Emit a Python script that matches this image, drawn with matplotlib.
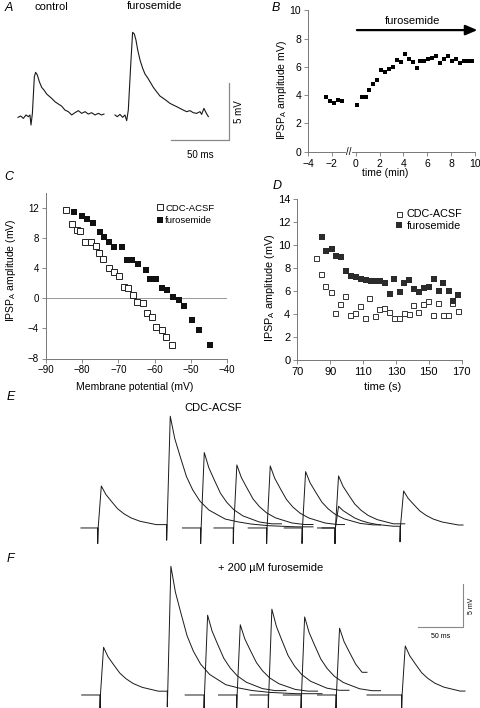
import matplotlib
matplotlib.use('Agg')
import matplotlib.pyplot as plt

plt.rcParams['font.family'] = ['Liberation Sans', 'DejaVu Sans']
plt.rcParams['axes.linewidth'] = 0.7

# ---------------- data ----------------
# A: averaged traces (ms, mV)
ctrl_t = [6.9, 9.2, 11.5, 13.8, 15.8, 17.2, 18.1, 19.3, 21.0, 22.1, 23.6, 25.3, 27.3, 29.3,
          31.6, 33.6, 35.9, 38.8, 41.7, 44.5, 47.4, 50.3, 53.2, 56.0, 58.9, 61.8, 64.7,
          67.5, 70.4, 73.3, 76.1, 79.0, 81.0]
ctrl_v = [-0.03, 0.09, -0.12, 0.18, 0.03, 0.18, -0.70, 0.32, 3.54, 3.92, 3.68, 3.10, 2.60,
          2.37, 2.02, 1.84, 1.64, 1.34, 1.14, 0.96, 0.61, 0.47, 0.18, 0.38, 0.56, 0.32, 0.47,
          0.26, 0.38, 0.18, 0.32, 0.18, 0.26]
furo_t = [90.5, 92.5, 94.8, 97.1, 99.1, 100.6, 102.0, 104.0, 105.7, 107.2, 108.6, 110.1,
          112.1, 114.4, 116.4, 118.4, 120.7, 123.6, 126.4, 129.3, 132.2, 135.0, 137.9, 140.8,
          143.7, 146.5, 149.4, 152.3, 155.2, 158.0, 160.9, 163.8, 165.2, 167.2, 169.0, 171.0]
furo_v = [0.18, 0.03, 0.23, -0.03, 0.18, -0.32, 0.61, 4.42, 7.43, 7.28, 6.75, 5.88, 5.00,
          4.27, 3.77, 3.48, 3.10, 2.60, 2.22, 1.84, 1.64, 1.43, 1.20, 1.05, 0.91, 0.76, 0.61,
          0.47, 0.56, 0.38, 0.32, 0.47, 0.23, 0.76, 0.38, 0.03]

# B: time course
b_time = [-2.47, -2.13, -1.83, -1.47, -1.13, 0.12, 0.54, 0.85, 1.15, 1.46, 1.79, 2.10, 2.46,
          2.80, 3.13, 3.47, 3.80, 4.13, 4.47, 4.80, 5.11, 5.42, 5.75, 6.08, 6.42, 6.75, 7.09,
          7.42, 7.73, 8.06, 8.42, 8.76, 9.06, 9.42, 9.76]
b_amp = [3.89, 3.61, 3.47, 3.66, 3.56, 3.30, 3.84, 3.84, 4.36, 4.79, 5.07, 5.75, 5.61, 5.87,
         6.01, 6.46, 6.32, 6.89, 6.53, 6.37, 5.94, 6.42, 6.42, 6.53, 6.65, 6.77, 6.25, 6.53,
         6.79, 6.42, 6.56, 6.25, 6.44, 6.42, 6.42]

# C: I-V relation
c_ctrl_v = [-84.41, -82.85, -81.47, -80.55, -79.17, -77.61, -76.32, -75.49, -74.12, -72.64,
            -71.08, -69.79, -68.50, -67.40, -65.84, -64.92, -63.26, -62.16, -60.78, -59.59,
            -58.02, -56.83, -55.08]
c_ctrl_a = [11.77, 9.91, 9.11, 8.97, 7.55, 7.46, 6.97, 6.08, 5.20, 4.04, 3.46, 2.93, 1.51,
            1.33, 0.44, -0.45, -0.67, -1.96, -2.49, -3.74, -4.27, -5.12, -6.14]
c_furo_v = [-82.21, -80.09, -78.71, -77.15, -75.22, -73.93, -72.64, -71.17, -68.87, -67.49,
            -66.21, -64.64, -62.44, -61.24, -59.68, -58.02, -56.64, -54.99, -53.33, -51.86,
            -49.57, -47.82, -44.69]
c_furo_a = [11.51, 10.97, 10.62, 10.00, 8.88, 8.22, 7.55, 6.84, 6.80, 5.06, 5.06, 4.62, 3.73,
            2.57, 2.53, 1.33, 1.06, 0.17, -0.23, -1.07, -2.85, -4.18, -6.14]

# D: time course in seconds
d_ctrl_t = [81.2, 84.2, 86.8, 90.3, 93.1, 96.2, 99.0, 102.0, 105.1, 108.1, 111.0, 113.8, 117.1,
            119.9, 122.7, 125.8, 128.8, 131.9, 134.9, 137.7, 140.6, 143.6, 146.7, 149.5, 152.6,
            155.4, 158.4, 161.5, 164.3, 167.6]
d_ctrl_a = [8.90, 7.48, 6.43, 5.94, 4.12, 4.90, 5.59, 3.91, 4.06, 4.70, 3.62, 5.36, 3.86, 4.43,
            4.49, 4.20, 3.65, 3.65, 4.09, 3.97, 4.78, 4.20, 4.90, 5.16, 3.91, 4.99, 3.94, 3.91,
            4.93, 4.23]
d_furo_t = [84.8, 87.2, 90.9, 93.3, 96.6, 99.6, 102.7, 105.7, 108.5, 111.8, 114.6, 117.5, 120.3,
            123.3, 126.4, 129.0, 132.3, 135.1, 138.2, 141.2, 144.0, 146.9, 149.9, 153.2, 156.2,
            158.8, 162.1, 164.7, 168.0]
d_furo_a = [10.67, 9.48, 9.62, 9.01, 8.96, 7.74, 7.33, 7.19, 7.07, 6.96, 6.84, 6.84, 6.90, 6.72,
            5.74, 7.01, 5.94, 6.67, 6.93, 6.20, 5.88, 6.29, 6.35, 7.04, 6.00, 6.67, 5.97, 5.10,
            5.68]

# E/F: overlaid sweeps (start ms, end ms, event onsets ms, event amplitudes mV)
e_sweeps = [(12.2, 270, [30.8, 107.4], [4.84, 12.5]),
            (125, 235, [145.2], [8.7]),
            (160, 270, [181.4], [7.27]),
            (198, 305, [218.5], [7.15]),
            (238, 345, [257.8], [6.5]),
            (275, 372, [294.4], [6.0]),
            (280, 436.7, [294.4, 366.7], [2.5, 4.07])]
f_sweeps = [(13, 280, [33.3, 108.1], [5.5, 14.4]),
            (128, 240, [148.9], [9.2]),
            (165, 275, [185.2], [8.1]),
            (200, 310, [220.3], [9.9]),
            (237, 345, [256.7], [9.0]),
            (275, 330, [295.5], [7.7]),
            (330, 438.9, [368.5], [5.65])]
# decay shape (ms after peak, fraction of peak)
decay_t = [0, 5, 11, 18, 25, 33, 43, 52, 61, 75, 90, 110, 140]
decay_f = [1, 0.8, 0.64, 0.46, 0.34, 0.24, 0.16, 0.12, 0.08, 0.055, 0.035, 0.02, 0.01]
rise_ms = 4.0


def sweep_xy(start, end, onsets, amps, dip=1.8):
    t = [start]
    v = [0.0]
    for k, (on, a) in enumerate(zip(onsets, amps)):
        stop = onsets[k + 1] if k + 1 < len(onsets) else end
        base = v[-1]
        t += [on, on, on + 0.5]
        v += [base, base - dip, base]
        for dt, f in zip(decay_t, decay_f):
            tk = on + rise_ms + dt
            if tk >= stop:
                break
            t.append(tk)
            v.append((base + a) * f)
    if t[-1] < end:
        t.append(end)
        v.append(v[-1])
    return t, v


W, H = 480, 708
fig = plt.figure(figsize=(4.8, 7.08), dpi=100)


def box(x0, y0, x1, y1):
    return [x0 / W, 1 - y1 / H, (x1 - x0) / W, (y1 - y0) / H]


def label(px, py, s, **kw):
    fig.text(px / W, 1 - py / H, s, **kw)


def style(ax, size=7):
    for s in ['top', 'right']:
        ax.spines[s].set_visible(False)
    for s in ['left', 'bottom']:
        ax.spines[s].set_color('#777777')
    ax.tick_params(direction='out', length=3, width=0.6, color='#777777',
                   labelsize=size, pad=2)


# ---------------- A ----------------
axA = fig.add_axes(box(10, 20, 240, 160))
axA.plot(ctrl_t, ctrl_v, color='#1a1a1a', lw=0.8)
axA.plot(furo_t, furo_v, color='#1a1a1a', lw=0.8)
axA.plot([138.8, 188.8, 188.8], [-2.02, -2.02, 2.98], color='#888888', lw=0.9)
axA.text(163.8, -2.9, '50 ms', ha='center', va='top', fontsize=7)
axA.text(197.5, 0.5, '5 mV', ha='center', va='center', rotation=90, fontsize=7)
axA.set_xlim(0, 198.3)
axA.set_ylim(-3.77, 8.51)
axA.axis('off')
label(5, 8, 'A', fontsize=9, style='italic', va='center')
label(51, 7, 'control', fontsize=8, ha='center', va='center')
label(155, 6, 'furosemide', fontsize=8, ha='center', va='center')

# ---------------- B ----------------
axB = fig.add_axes(box(308, 10.3, 475, 151.7))
style(axB, 7.5)
axB.plot(b_time, b_amp, 's', color='black', ms=3.2, mew=0)
axB.set_xlim(-4, 10)
axB.set_ylim(0, 10)
axB.set_xticks(range(-4, 11, 2))
axB.set_yticks(range(0, 11, 2))
axB.set_xlabel('time (min)', fontsize=7.5)
axB.set_ylabel('IPSP$_\\mathregular{A}$ amplitude mV)', fontsize=7.5)
axB.xaxis.set_label_coords(0.461, -0.115)
axB.yaxis.set_label_coords(-0.111, 0.436)
axB.annotate('', xy=(10.2, 8.6), xytext=(0.1, 8.6),
             arrowprops=dict(arrowstyle='-|>,head_length=0.7,head_width=0.3',
                             lw=1.6, color='black', mutation_scale=10,
                             shrinkA=0, shrinkB=0),
             annotation_clip=False)
axB.text(4.8, 9.25, 'furosemide', ha='center', va='center', fontsize=8)
axB.text(-0.55, 0, '//', ha='center', va='center', fontsize=7, clip_on=False,
         bbox=dict(fc='white', ec='none', pad=0.2))
label(272, 8, 'B', fontsize=9, style='italic', va='center')

# ---------------- C ----------------
axC = fig.add_axes(box(46, 193.3, 227, 358.5))
style(axC, 7)
axC.axhline(0, color='#888888', lw=0.6, zorder=1)
axC.plot(c_ctrl_v, c_ctrl_a, 's', mfc='white', mec='#222222', mew=0.7, ms=3.8,
         label='CDC-ACSF', zorder=3)
axC.plot(c_furo_v, c_furo_a, 's', color='#111111', mew=0, ms=4.2,
         label='furosemide', zorder=3)
axC.set_xlim(-90, -40)
axC.set_ylim(-8, 14)
axC.set_xticks(range(-90, -39, 10))
axC.set_yticks(range(-8, 13, 4))
axC.set_xlabel('Membrane potential (mV)', fontsize=7.5)
axC.set_ylabel('IPSP$_\\mathregular{A}$ amplitude (mV)', fontsize=7.5)
axC.xaxis.set_label_coords(0.49, -0.142)
axC.yaxis.set_label_coords(-0.156, 0.536)
axC.legend(loc='upper left', bbox_to_anchor=(0.612, 0.938), frameon=False,
           fontsize=6.8, borderpad=0, handlelength=0.6, handletextpad=0.3,
           labelspacing=0.35, borderaxespad=0)
label(4, 177, 'C', fontsize=9, style='italic', va='center')

# ---------------- D ----------------
axD = fig.add_axes(box(297.3, 199, 461.7, 360))
style(axD, 8)
axD.plot(d_ctrl_t, d_ctrl_a, 's', mfc='white', mec='#333333', mew=0.7, ms=3.6,
         label='CDC-ACSF', zorder=3)
axD.plot(d_furo_t, d_furo_a, 's', color='#2b2b2b', mew=0, ms=4.6,
         label='furosemide', zorder=3)
axD.set_xlim(70, 170)
axD.set_ylim(0, 14)
axD.set_xticks(range(70, 171, 20))
axD.set_yticks(range(0, 15, 2))
axD.set_xlabel('time (s)', fontsize=8)
axD.set_ylabel('IPSP$_\\mathregular{A}$ amplitude (mV)', fontsize=7.8)
axD.xaxis.set_label_coords(0.519, -0.137)
axD.yaxis.set_label_coords(-0.125, 0.45)
axD.legend(loc='upper left', bbox_to_anchor=(0.592, 0.935), frameon=False,
           fontsize=7.8, borderpad=0, handlelength=0.8, handletextpad=0.3,
           labelspacing=0.12, borderaxespad=0)
label(273, 186, 'D', fontsize=9, style='italic', va='center')

# ---------------- E ----------------
axE = fig.add_axes(box(70, 400, 475, 548))
for s0, s1, ons, amps in e_sweeps:
    t, v = sweep_xy(s0, s1, ons, amps)
    axE.plot(t, v, color='#1a1a1a', lw=0.7)
axE.set_xlim(0, 450)
axE.set_ylim(-2.31, 14.76)
axE.axis('off')
label(7, 397, 'E', fontsize=9, style='italic', va='center')
label(213, 408, 'CDC-ACSF', fontsize=8, ha='center', va='center')

# ---------------- F ----------------
axF = fig.add_axes(box(70, 560, 475, 708))
for s0, s1, ons, amps in f_sweeps:
    t, v = sweep_xy(s0, s1, ons, amps)
    axF.plot(t, v, color='#1a1a1a', lw=0.7)
axF.plot([387, 437, 437], [7.84, 7.84, 12.84], color='#888888', lw=0.8)
axF.text(412, 7.1, '50 ms', ha='center', va='top', fontsize=5)
axF.text(446.5, 10.3, '5 mV', ha='center', va='center', rotation=90, fontsize=5)
axF.set_xlim(0, 450)
axF.set_ylim(-1.5, 15.57)
axF.axis('off')
label(7, 559, 'F', fontsize=9, style='italic', va='center')
label(271, 568, '+ 200 µM furosemide', fontsize=8, ha='center', va='center')

fig.savefig('out.png', dpi=100)
